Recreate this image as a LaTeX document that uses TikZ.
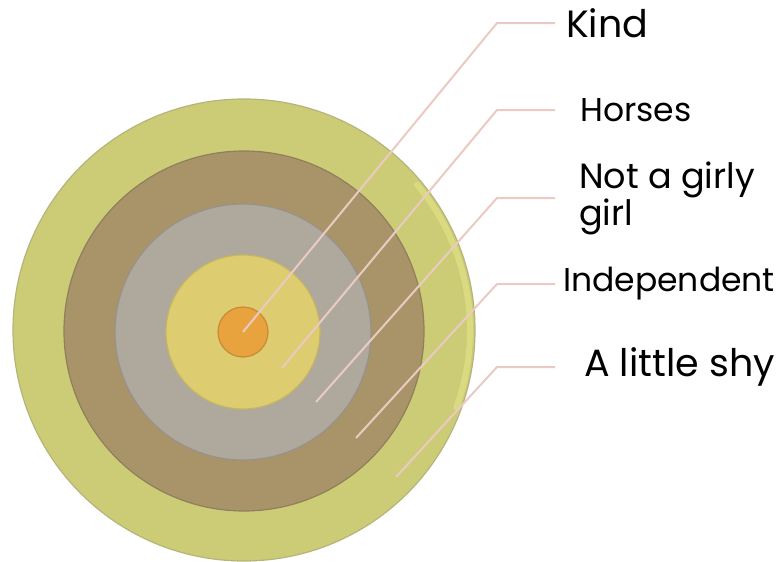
\documentclass[tikz,border=0pt]{standalone}
\usepackage{fontspec}
\setmainfont{Poppins}
\begin{document}
\begin{tikzpicture}[x=1pt,y=-1pt]
\definecolor{ringA}{HTML}{CCCC77}
\definecolor{ringAedge}{HTML}{B5B47A}
\definecolor{ringAhi}{HTML}{E6E688}
\definecolor{ringB}{HTML}{A89468}
\definecolor{ringBedge}{HTML}{8F7F5C}
\definecolor{ringC}{HTML}{AEA99C}
\definecolor{ringCedge}{HTML}{97928A}
\definecolor{ringD}{HTML}{DDCC70}
\definecolor{ringDedge}{HTML}{C6B662}
\definecolor{dotcol}{HTML}{E8A23E}
\definecolor{dotedge}{HTML}{C98A35}
\definecolor{leader}{HTML}{EBCAC3}
\tikzset{
  ring/.style={circle, inner sep=0pt, line width=1.2pt},
  lead/.style={draw=leader, line width=2pt},
  lbl/.style={anchor=west, inner sep=0pt, text=black, align=left},
}
\useasboundingbox (0,0) rectangle (782,562);
\fill[white] (0,0) rectangle (782,562);
\node[ring, minimum size=462pt, fill=ringA, draw=ringAedge] (r1) at (244,330) {};
\draw[line width=6pt, draw=ringAhi, opacity=0.55, line cap=round] (244,330) ++(-40:226) arc[start angle=-40, end angle=20, radius=226];
\node[ring, minimum size=360pt, fill=ringB, draw=ringBedge] (r2) at (244,331) {};
\node[ring, minimum size=256pt, fill=ringC, draw=ringCedge] (r3) at (243,332) {};
\node[ring, minimum size=154pt, fill=ringD, draw=ringDedge] (r4) at (243,332) {};
\node[ring, minimum size=50pt, fill=dotcol, draw=dotedge] (r5) at (243,332) {};
% label nodes
\node[lbl, font=\fontsize{38}{42}\selectfont] (kind) at (566,23) {Kind};
\node[lbl, font=\fontsize{33}{36}\selectfont] (horses) at (580,110) {Horses};
\node[lbl, font=\fontsize{35}{33}\selectfont] (girly) at (579,198) {Not a girly\\girl};
\node[lbl, font=\fontsize{33}{37}\selectfont] (indep) at (563,284) {Independent};
\node[lbl, font=\fontsize{38}{42}\selectfont] (shy) at (584,367) {A little shy};
% leader points
\coordinate (e1) at (243,332);
\coordinate (e2) at (282,368);
\coordinate (e3) at (316,402);
\coordinate (e4) at (356,438);
\coordinate (e5) at (396,477);
\coordinate (k1) at (497,23);
\coordinate (k2) at (497,110);
\coordinate (k3) at (497,198);
\coordinate (k4) at (497,284);
\coordinate (k5) at (497,367);
\coordinate (h1) at (555,23);
\coordinate (h2) at (555,110);
\coordinate (h3) at (555,198);
\coordinate (h4) at (555,284);
\coordinate (h5) at (555,367);
\draw[lead] (e1) -- (k1) -- (h1);
\draw[lead] (e2) -- (k2) -- (h2);
\draw[lead] (e3) -- (k3) -- (h3);
\draw[lead] (e4) -- (k4) -- (h4);
\draw[lead] (e5) -- (k5) -- (h5);
\end{tikzpicture}
\end{document}
